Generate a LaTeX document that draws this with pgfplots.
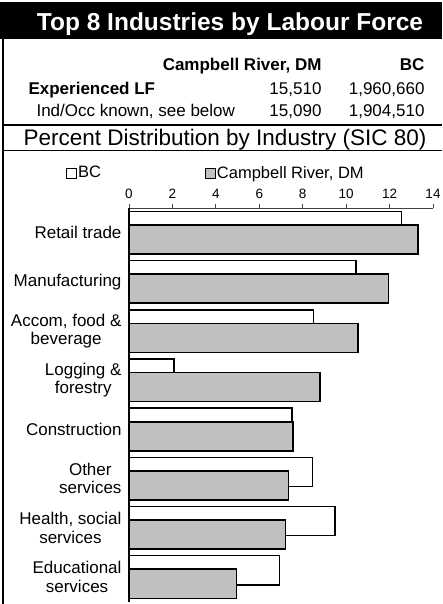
\documentclass[border=0pt]{standalone}
\usepackage{pgfplots}
\pgfplotsset{compat=1.18}
\usepackage{fontspec}
\setmainfont{Liberation Sans}
\definecolor{barg}{HTML}{C0C0C0}

\begin{document}
\begin{tikzpicture}
% header block (1pt = 1px of the reference)
\fill[black] (0pt,-2pt) rectangle (442pt,-39pt);
\node[white, anchor=base, font=\fontsize{24.5}{26}\selectfont\bfseries] at (230pt,-31pt) {Top 8 Industries by Labour Force};
\draw[line width=2pt] (3pt,-39pt) -- (3pt,-604pt);
\node[anchor=base east, font=\fontsize{17}{19}\selectfont\bfseries] at (325pt,-71pt) {Campbell River, DM};
\node[anchor=base east, font=\fontsize{17}{19}\selectfont\bfseries] at (428pt,-71pt) {BC};
\node[anchor=base west, font=\fontsize{17}{19}\selectfont\bfseries] at (25pt,-95pt) {Experienced LF};
\node[anchor=base east, font=\fontsize{17}{19}\selectfont] at (325pt,-95pt) {15,510};
\node[anchor=base east, font=\fontsize{17}{19}\selectfont] at (428pt,-95pt) {1,960,660};
\node[anchor=base west, font=\fontsize{17}{19}\selectfont] at (33pt,-117pt) {Ind/Occ known, see below};
\node[anchor=base east, font=\fontsize{17}{19}\selectfont] at (325pt,-117pt) {15,090};
\node[anchor=base east, font=\fontsize{17}{19}\selectfont] at (428pt,-117pt) {1,904,510};
\draw[line width=2pt] (3pt,-125.5pt) -- (442pt,-125.5pt);
\node[anchor=base, font=\fontsize{22.5}{24}\selectfont] at (225pt,-146pt) {Percent Distribution by Industry (SIC 80)};
\draw[line width=1.3pt] (3pt,-150.5pt) -- (442pt,-150.5pt);

\begin{axis}[
    at={(129pt,-208pt)}, anchor=north west,
    scale only axis,
    width=304pt, height=393.6pt,
    xmin=0, xmax=14,
    ymin=-0.5, ymax=7.5,
    axis x line*=top,
    axis y line*=left,
    x axis line style={draw=black!75, line width=0.9pt},
    y axis line style={draw=black, line width=2pt},
    xtick={0,2,...,14},
    ytick={0,...,7},
    yticklabels={{Educational\\services},{Health, social\\services},{Other\\services},Construction,{Logging \&\\forestry},{Accom, food \&\\beverage},Manufacturing,Retail trade},
    ytick style={draw=none},
    xtick style={draw=black!75, line width=0.9pt},
    tick align=outside,
    major tick length=4pt,
    /pgf/number format/assume math mode=true,
    xticklabel style={font=\fontsize{13.5}{15}\selectfont, yshift=2pt},
    yticklabel style={font=\fontsize{17}{18.5}\selectfont, align=center},
    legend columns=2,
    legend cell align=left,
    legend style={at={(-0.207,1.089)}, anchor=west, draw=none, fill=none,
        inner sep=0pt, font=\fontsize{16.5}{18}\selectfont,
        nodes={inner sep=1pt},
        /tikz/every even column/.append style={column sep=103pt}},
    clip=false,
]
\addplot[xbar, bar width=29pt, bar shift=6.8pt, fill=white, draw=black, line width=1.6pt,
    legend image code/.code={\draw[fill=white,draw=black,line width=0.9pt] (0pt,-5pt) rectangle (10pt,5pt);}]
    coordinates {(12.55,7) (10.45,6) (8.5,5) (2.07,4) (7.5,3) (8.45,2) (9.5,1) (6.93,0)};
\addlegendentry{BC}
\addplot[xbar, bar width=29pt, bar shift=-6.8pt, fill=barg, draw=black, line width=1.6pt,
    legend image code/.code={\draw[fill=barg,draw=black,line width=0.9pt] (0pt,-5pt) rectangle (10pt,5pt);}]
    coordinates {(13.3,7) (11.95,6) (10.55,5) (8.8,4) (7.55,3) (7.35,2) (7.2,1) (4.95,0)};
\addlegendentry{Campbell River, DM}
\end{axis}
\pgfresetboundingbox
\path[use as bounding box] (0pt,0pt) rectangle (442pt,-604pt);
\end{tikzpicture}
\end{document}
